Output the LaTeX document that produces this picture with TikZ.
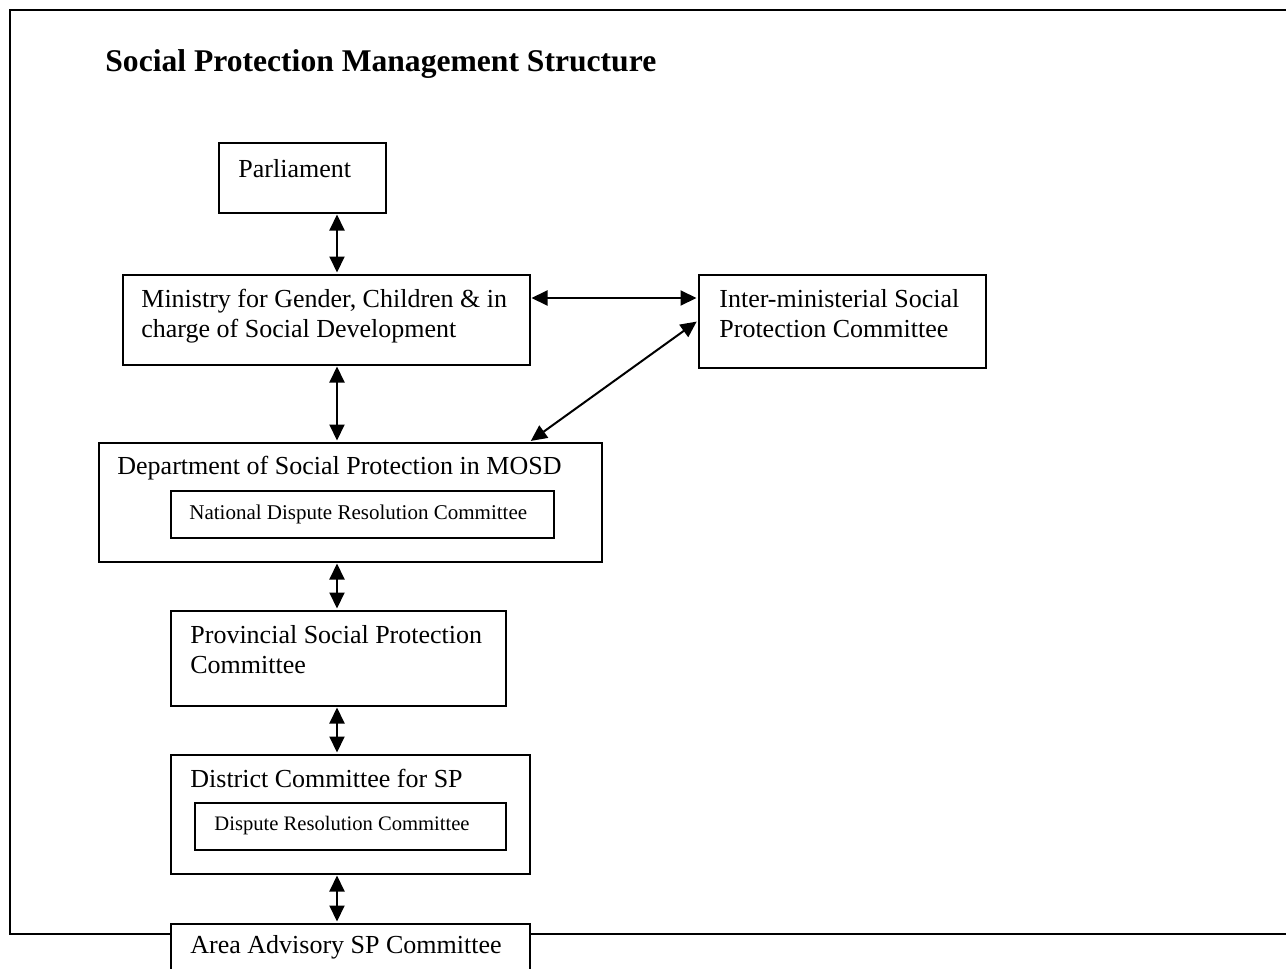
\documentclass[tikz,border=0pt]{standalone}
\usepackage{fontspec}
\setmainfont{Liberation Serif}
\usetikzlibrary{arrows.meta}
\tikzset{
  box/.style={draw=black, line width=1pt, fill=white, rectangle, inner sep=0pt},
  lbl/.style={anchor=base west, inner sep=0pt, align=left, font=\fontsize{13}{15}\selectfont},
  small/.style={anchor=base west, inner sep=0pt, font=\fontsize{10.5}{12}\selectfont},
  dbl/.style={line width=1pt, {Triangle[length=8pt,width=7.5pt]}-{Triangle[length=8pt,width=7.5pt]}, shorten <=0.5pt, shorten >=0.5pt},
  frame/.style={draw=black, line width=1.2pt}
}
\begin{document}
\begin{tikzpicture}[x=0.5pt, y=-0.5pt]
\useasboundingbox (0,0) rectangle (1286,969);
\clip (0,0) rectangle (1286,969);
\fill[white] (0,0) rectangle (1286,969);
% outer frame
\draw[frame] (10,10) rectangle (1320,934);
% title
\node[anchor=base west, inner sep=0pt, font=\fontsize{15.8}{19}\selectfont\bfseries] (title) at (105,71) {Social Protection Management Structure};
% boxes
\node[box, anchor=north west, minimum width=83.5pt, minimum height=35pt] (parl) at (218,141.5) {};
\node[lbl] (parlt) at (238,177) {Parliament};
\node[box, anchor=north west, minimum width=203.5pt, minimum height=45pt] (min) at (121.5,273.5) {};
\node[lbl] (mint) at (141,337) {Ministry for Gender, Children \& in\\charge of Social Development};
\node[box, anchor=north west, minimum width=143.5pt, minimum height=46.5pt] (inter) at (697.5,273.5) {};
\node[lbl] (intert) at (719,337) {Inter-ministerial Social\\Protection Committee};
\node[box, anchor=north west, minimum width=251.5pt, minimum height=59.5pt] (dept) at (97.5,441.5) {};
\node[lbl] (deptt) at (117,474) {Department of Social Protection in MOSD};
\node[box, anchor=north west, minimum width=191.5pt, minimum height=23.5pt] (ndrc) at (169.5,489.5) {};
\node[small] (ndrct) at (189,519) {National Dispute Resolution Committee};
\node[box, anchor=north west, minimum width=167.5pt, minimum height=47.5pt] (prov) at (169.5,609.5) {};
\node[lbl] (provt) at (190,673) {Provincial Social Protection\\Committee};
\node[box, anchor=north west, minimum width=179.5pt, minimum height=59.5pt] (dist) at (169.5,753.5) {};
\node[lbl] (distt) at (190,787) {District Committee for SP};
\node[box, anchor=north west, minimum width=155.5pt, minimum height=23.5pt] (drc) at (193.5,801.5) {};
\node[small, font=\fontsize{10.3}{12}\selectfont] (drct) at (214,830) {Dispute Resolution Committee};
\node[box, anchor=north west, minimum width=179.5pt, minimum height=45pt] (area) at (169.5,922.5) {};
\node[lbl] (areat) at (190,953) {Area Advisory SP Committee};
% connector guides
\coordinate (ax) at (337,0);
\coordinate (hy) at (0,298);
\coordinate (dx) at (530,0);
\coordinate (iy) at (0,321);
% connectors
\draw[dbl] (parl.south -| ax) -- (min.north -| ax);
\draw[dbl] (min.south -| ax) -- (dept.north -| ax);
\draw[dbl] (dept.south -| ax) -- (prov.north -| ax);
\draw[dbl] (prov.south -| ax) -- (dist.north -| ax);
\draw[dbl] (dist.south -| ax) -- (area.north -| ax);
\draw[dbl] (min.east |- hy) -- (inter.west |- hy);
\draw[dbl] (dept.north -| dx) -- (inter.west |- iy);
\end{tikzpicture}
\end{document}
